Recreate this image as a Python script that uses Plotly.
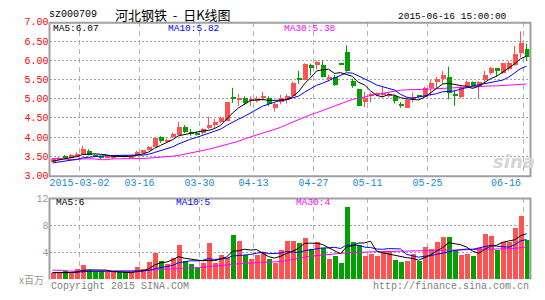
import plotly.graph_objects as go

W, H = 545, 300

dates = ["02-16", "02-17", "02-25", "02-26", "02-27",
         "03-02", "03-03", "03-04", "03-05", "03-06", "03-09", "03-10", "03-11", "03-12", "03-13",
         "03-16", "03-17", "03-18", "03-19", "03-20", "03-23", "03-24", "03-25", "03-26", "03-27",
         "03-30", "03-31", "04-01", "04-02", "04-03",
         "04-07", "04-08", "04-09", "04-10",
         "04-13", "04-14", "04-15", "04-16", "04-17", "04-20", "04-21", "04-22", "04-23", "04-24",
         "04-27", "04-28", "04-29", "04-30",
         "05-04", "05-05", "05-06", "05-07", "05-08",
         "05-11", "05-12", "05-13", "05-14", "05-15", "05-18", "05-19", "05-20", "05-21", "05-22",
         "05-25", "05-26", "05-27", "05-28", "05-29",
         "06-01", "06-02", "06-03", "06-04", "06-05", "06-08", "06-09", "06-10", "06-11", "06-12",
         "06-15", "06-16"]

open_p = [3.38, 3.43, 3.48, 3.46, 3.49, 3.56, 3.63, 3.54, 3.50, 3.48,
          3.48, 3.51, 3.50, 3.48, 3.53, 3.59, 3.67, 3.75, 4.01, 3.90,
          4.00, 4.06, 4.26, 4.11, 4.10, 4.10, 4.23, 4.34, 4.39, 4.43,
          5.06, 4.99, 5.01, 4.95, 4.95, 5.03, 5.01, 4.77, 4.91, 4.98,
          5.08, 5.54, 5.50, 5.87, 5.89, 5.87, 5.52, 5.56, 5.91, 6.21,
          5.46, 5.25, 4.91, 5.08, 5.11, 5.12, 5.09, 5.08, 4.87, 4.77,
          4.99, 5.07, 5.06, 5.27, 5.45, 5.52, 5.58, 5.10, 5.06, 5.31,
          5.43, 5.31, 5.49, 5.66, 5.79, 5.66, 5.77, 5.89, 6.18, 6.31]
high_p = [3.45, 3.48, 3.53, 3.56, 3.60, 3.77, 3.68, 3.56, 3.52, 3.50,
          3.51, 3.53, 3.52, 3.53, 3.64, 3.67, 3.76, 3.98, 4.02, 3.96,
          4.12, 4.39, 4.31, 4.21, 4.14, 4.23, 4.53, 4.47, 4.53, 4.91,
          5.28, 5.12, 5.06, 5.06, 5.06, 5.18, 5.06, 4.89, 5.10, 5.12,
          5.45, 5.72, 5.92, 5.91, 5.99, 5.99, 5.62, 5.62, 5.91, 6.39,
          5.52, 5.26, 5.18, 5.16, 5.16, 5.31, 5.15, 5.10, 4.91, 5.03,
          5.16, 5.10, 5.31, 5.48, 5.56, 5.72, 5.83, 5.23, 5.35, 5.47,
          5.45, 5.45, 5.72, 5.82, 5.79, 5.92, 5.98, 6.37, 6.75, 6.43]
low_p = [3.35, 3.41, 3.44, 3.44, 3.47, 3.54, 3.52, 3.49, 3.42, 3.46,
         3.42, 3.48, 3.47, 3.47, 3.52, 3.57, 3.65, 3.74, 3.85, 3.88,
         3.97, 4.05, 4.10, 4.03, 4.04, 4.06, 4.20, 4.22, 4.36, 4.42,
         4.89, 4.81, 4.84, 4.81, 4.90, 4.94, 4.81, 4.66, 4.85, 4.87,
         5.07, 5.39, 5.48, 5.60, 5.76, 5.55, 5.45, 5.33, 5.90, 5.70,
         5.28, 4.80, 4.78, 4.91, 5.06, 5.03, 5.03, 4.87, 4.76, 4.75,
         4.90, 5.03, 5.05, 5.08, 5.25, 5.38, 4.98, 4.81, 5.01, 5.27,
         5.29, 5.00, 5.40, 5.62, 5.58, 5.64, 5.72, 5.86, 6.07, 5.99]
close_p = [3.43, 3.47, 3.46, 3.53, 3.56, 3.69, 3.53, 3.50, 3.47, 3.49,
           3.50, 3.49, 3.49, 3.52, 3.62, 3.66, 3.75, 3.98, 3.89, 3.94,
           4.08, 4.27, 4.14, 4.09, 4.08, 4.21, 4.33, 4.39, 4.50, 4.91,
           4.99, 5.00, 4.89, 4.96, 5.00, 5.04, 4.87, 4.87, 5.01, 5.08,
           5.42, 5.50, 5.91, 5.80, 5.96, 5.58, 5.57, 5.37, 5.90, 5.72,
           5.33, 4.81, 5.02, 5.13, 5.13, 5.14, 5.11, 4.93, 4.81, 4.98,
           5.05, 5.06, 5.27, 5.42, 5.52, 5.62, 5.16, 5.09, 5.31, 5.43,
           5.33, 5.43, 5.62, 5.79, 5.72, 5.92, 5.92, 6.16, 6.46, 6.08]
volume = [0.85, 0.85, 1.20, 0.95, 1.40, 2.00, 1.30, 1.20, 1.20, 0.95,
          0.95, 0.95, 0.95, 0.95, 1.67, 1.50, 2.50, 3.80, 2.67, 2.20,
          3.10, 4.95, 2.60, 2.20, 1.55, 2.30, 5.25, 2.35, 3.50, 3.10,
          6.50, 5.65, 3.45, 2.90, 3.45, 3.95, 2.95, 2.40, 4.20, 5.55,
          5.57, 5.24, 6.00, 4.34, 5.52, 4.62, 2.96, 3.30, 2.39, 10.67,
          5.43, 5.00, 3.43, 3.67, 3.34, 4.14, 3.96, 2.82, 2.43, 2.58,
          3.67, 2.58, 4.72, 4.43, 5.43, 6.24, 6.24, 4.14, 3.53, 3.67,
          3.30, 4.53, 6.67, 6.39, 4.24, 5.52, 5.52, 7.53, 9.39, 5.81]

prior_close = [3.25, 3.27, 3.28, 3.30, 3.30, 3.33, 3.35, 3.36, 3.38]
prior_volume = [1.05, 0.98, 1.02, 0.95, 1.00, 0.97, 1.00, 0.95, 1.00]

ma30_price = [3.44, 3.44, 3.43, 3.41, 3.41, 3.43, 3.43, 3.43, 3.41, 3.41,
              3.43, 3.43, 3.43, 3.43, 3.43, 3.44, 3.45, 3.46, 3.47, 3.48,
              3.50, 3.52, 3.55, 3.58, 3.61, 3.64, 3.68, 3.72, 3.76, 3.81,
              3.85, 3.89, 3.95, 4.00, 4.05, 4.10, 4.14, 4.19, 4.25, 4.32,
              4.39, 4.45, 4.52, 4.58, 4.63, 4.69, 4.74, 4.80, 4.87, 4.93,
              4.98, 5.01, 5.05, 5.08, 5.11, 5.14, 5.17, 5.20, 5.22, 5.23,
              5.23, 5.23, 5.24, 5.25, 5.26, 5.27, 5.28, 5.28, 5.29, 5.30,
              5.31, 5.31, 5.32, 5.33, 5.33, 5.34, 5.35, 5.36, 5.37, 5.38]
ma30_volume = [1.32, 1.32, 1.30, 1.17, 1.17, 1.17, 1.17, 1.17, 1.17, 1.17,
               1.17, 1.17, 1.17, 1.17, 1.18, 1.20, 1.30, 1.40, 1.45, 1.50,
               1.52, 1.55, 1.60, 1.62, 1.65, 1.75, 1.85, 1.90, 2.00, 2.10,
               2.20, 2.30, 2.35, 2.38, 2.42, 2.45, 2.50, 2.55, 2.62, 2.75,
               2.95, 3.10, 3.25, 3.40, 3.50, 3.60, 3.65, 3.70, 3.80, 3.90,
               3.95, 4.00, 4.03, 4.05, 4.07, 4.08, 4.10, 4.10, 4.12, 4.14,
               4.15, 4.15, 4.17, 4.18, 4.20, 4.22, 4.24, 4.25, 4.27, 4.28,
               4.30, 4.33, 4.36, 4.40, 4.43, 4.47, 4.52, 4.58, 4.65, 4.75]

tick_dates = ["03-02", "03-16", "03-30", "04-13", "04-27", "05-11", "05-25", "06-16"]
tick_labels = ["2015-03-02", "03-16", "03-30", "04-13", "04-27", "05-11", "05-25", "06-16"]
price_ticks = [3.0, 3.5, 4.0, 4.5, 5.0, 5.5, 6.0, 6.5, 7.0]
vol_ticks = [4, 8, 12]

RED = "#ff5252"
GREEN = "#00a000"
MONO = "Liberation Mono"
CJK = "Noto Sans CJK SC"


def moving_avg(values, prior, n):
    full = list(prior) + list(values)
    off = len(prior)
    out = []
    for k in range(len(values)):
        w = full[max(0, off + k - n + 1): off + k + 1]
        out.append(sum(w) / len(w))
    return out


n = len(dates)
x = list(range(n))
up = [c > o for o, c in zip(open_p, close_p)]
colors = [RED if u else GREEN for u in up]
base = [min(o, c) for o, c in zip(open_p, close_p)]
body = [max(abs(c - o), 0.025) for o, c in zip(open_p, close_p)]

ma5 = moving_avg(close_p, prior_close, 5)
ma10 = moving_avg(close_p, prior_close, 10)
vma5 = moving_avg(volume, prior_volume, 5)
vma10 = moving_avg(volume, prior_volume, 10)

fig = go.Figure()

# candle bodies
fig.add_trace(go.Bar(x=x, y=body, base=base, width=5 / 6,
                     marker=dict(color=colors, line=dict(width=0)),
                     xaxis="x", yaxis="y", hoverinfo="skip"))
# wicks
for flag, col in ((True, RED), (False, GREEN)):
    wx, wy = [], []
    for i in range(n):
        if up[i] == flag:
            wx += [i, i, None]
            wy += [low_p[i], high_p[i], None]
    fig.add_trace(go.Scatter(x=wx, y=wy, mode="lines", line=dict(color=col, width=1),
                             xaxis="x", yaxis="y", hoverinfo="skip"))
# price MAs
for series, col in ((ma30_price, "#ff00ff"), (ma10, "#0000ff"), (ma5, "#000000")):
    fig.add_trace(go.Scatter(x=x, y=series, mode="lines", line=dict(color=col, width=1),
                             xaxis="x", yaxis="y", hoverinfo="skip"))

# volume bars
fig.add_trace(go.Bar(x=x, y=volume, width=5 / 6,
                     marker=dict(color=colors, line=dict(width=0)),
                     xaxis="x2", yaxis="y2", hoverinfo="skip"))
for series, col in ((ma30_volume, "#ff00ff"), (vma10, "#0000ff"), (vma5, "#000000")):
    fig.add_trace(go.Scatter(x=x, y=series, mode="lines", line=dict(color=col, width=1),
                             xaxis="x2", yaxis="y2", hoverinfo="skip"))


def px_x(p):
    return p / W


def px_y(p):
    return (H - p) / H


tickpos = [dates.index(d) - 0.5 for d in tick_dates]
xdom = [px_x(49.5), px_x(529.5)]

common_x = dict(domain=xdom, range=[-0.5, n - 0.5], tickmode="array", tickvals=tickpos,
                showgrid=True, gridcolor="#b4b4b4", griddash="5px,4px", gridwidth=1,
                zeroline=False, showline=False, ticks="", fixedrange=True)

fig.update_layout(
    width=W, height=H, margin=dict(l=0, r=0, t=0, b=0),
    paper_bgcolor="white", plot_bgcolor="white", showlegend=False,
    barmode="overlay", bargap=0,
    xaxis=dict(**common_x, anchor="y", ticktext=tick_labels[:-1] + [""],
               tickfont=dict(family=MONO, size=10, color="#1a88d8")),
    yaxis=dict(domain=[px_y(177.5), px_y(17.5)], range=[3.0, 7.0], anchor="x",
               tickmode="array", tickvals=price_ticks,
               ticktext=[f"{v:.2f}" for v in price_ticks],
               showgrid=True, gridcolor="#a0a0a0", griddash="2px,2px", gridwidth=1,
               zeroline=False, showline=False, ticks="", fixedrange=True,
               tickfont=dict(family=MONO, size=10, color="#ff0000")),
    xaxis2=dict(**common_x, anchor="y2", showticklabels=False),
    yaxis2=dict(domain=[px_y(285.5), px_y(201.5)], range=[0, 12], anchor="x2",
                tickmode="array", tickvals=vol_ticks, ticktext=[str(v) for v in vol_ticks],
                showgrid=True, gridcolor="#a0a0a0", griddash="2px,2px", gridwidth=1,
                zeroline=False, showline=False, ticks="", fixedrange=True,
                tickfont=dict(family=MONO, size=10, color="#999999")),
)

FRAME = "#a0a0a0"
shapes = [
    dict(type="rect", xref="paper", yref="paper", x0=px_x(49.5), x1=px_x(530.5),
         y0=px_y(178.5), y1=px_y(18.5), line=dict(color=FRAME, width=2), layer="above"),
    dict(type="path", xref="paper", yref="paper",
         path=f"M {px_x(49.5)},{px_y(286)} L {px_x(49.5)},{px_y(201.5)} "
              f"L {px_x(530.5)},{px_y(201.5)} L {px_x(530.5)},{px_y(286)}",
         line=dict(color=FRAME, width=2), layer="above"),
]


def ann(text, xp, yp, anchor="left", color="#000000", size=9.5, family=MONO, **kw):
    d = dict(text=text, x=px_x(xp), y=px_y(yp), xref="paper", yref="paper",
             xanchor=anchor, yanchor="middle", showarrow=False, borderpad=0,
             font=dict(family=family, size=size, color=color))
    d.update(kw)
    return d


annotations = [
    ann("sz000709", 48, 10, size=10),
    ann("河北钢铁&nbsp;&nbsp;-&nbsp;&nbsp;日K线图", 114, 10, size=13, family=CJK),
    ann("2015-06-16 15:00:00", 508, 12, anchor="right"),
    ann("MA5:6.07", 52, 24),
    ann("MA10:5.82", 167, 24, color="#0000ff"),
    ann("MA30:5.38", 283, 24, color="#ff00ff"),
    ann("MA5:6", 55, 206),
    ann("MA10:5", 175, 206, color="#0000ff"),
    ann("MA30:4", 295, 206, color="#ff00ff"),
    ann("x百万", 45, 286, anchor="right", color="#999999", size=10, family=CJK),
    ann("Copyright 2015 SINA.COM", 50, 293, color="#808080", size=10),
    ann("http://finance.sina.com.cn", 530, 293, anchor="right", color="#808080", size=10),
    ann("<b><i>sina</i></b>", 514, 163, anchor="center", color="#d6d6d6", size=18,
        family="DejaVu Sans"),
    dict(text=tick_labels[-1], x=tickpos[-1], y=px_y(186), xref="x", yref="paper",
         xanchor="right", yanchor="middle", xshift=-1.5, showarrow=False, borderpad=0,
         font=dict(family=MONO, size=10, color="#1a88d8")),
]

fig.update_layout(shapes=shapes, annotations=annotations)
fig.write_html("out.html")
